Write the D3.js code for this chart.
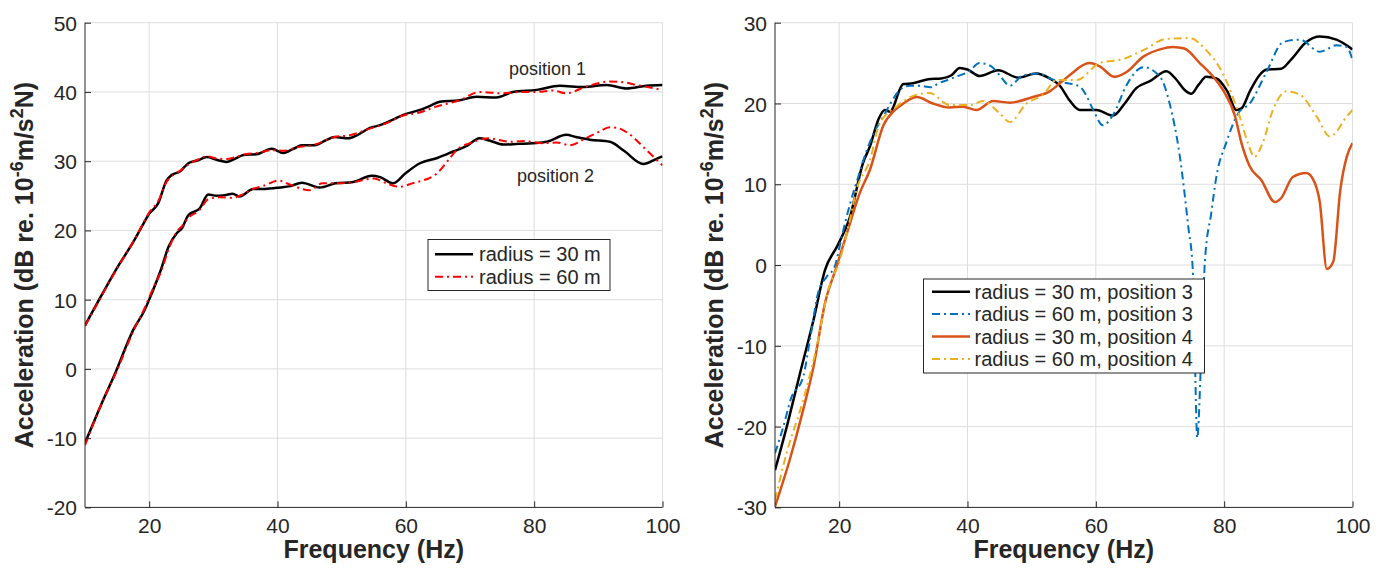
<!DOCTYPE html>
<html lang="en">
<head>
    <meta charset="UTF-8">
    <title>Acceleration vs frequency</title>
    <script src="https://d3js.org/d3.v7.min.js"></script>
</head>
<body>
<svg id="chart" width="1389" height="568"></svg>
</body>

<style>
    body { margin: 0; background: #fff; }
    svg { display: block; }
    text {
        font-family: "Liberation Sans", Arial, Helvetica, sans-serif;
        fill: #262626;
    }
    .grid line { stroke: #dedede; stroke-width: 1; }
    .axis-line { stroke: #262626; stroke-width: 1; fill: none; }
    .tick-label { font-size: 21px; }
    .axis-label { font-size: 25px; font-weight: bold; }
    .legend-text { font-size: 20px; }
</style>

<script>
    // [frequency (Hz), acceleration (dB)]
    const pos1Radius30 = [[10,6.3],[12.5,10.5],[15,14.6],[17.5,18.3],[19,20.8],[20,22.4],[21.4,23.9],[22.7,27.2],[23.5,28],[24.8,28.5],[26.1,29.7],[27.5,30.1],[29,30.6],[30.5,30.2],[32.1,29.9],[33.5,30.4],[34.7,30.9],[36.7,31.0],[39.1,31.8],[40.9,31.2],[42.5,31.8],[43.8,32.3],[45.8,32.3],[47.5,33.0],[48.9,33.5],[51,33.3],[52.5,33.8],[54.4,34.8],[56,35.2],[58,36.0],[59.6,36.7],[62.2,37.4],[63.8,38.0],[65.3,38.6],[68.4,38.8],[71,39.3],[74.1,39.2],[76.7,40.0],[80.4,40.3],[84,40.9],[87.6,40.7],[91.3,41.0],[94.4,40.5],[97.5,40.9],[100,41.0]];
    const pos1Radius60 = [[10,6.2],[12.5,10.4],[15,14.5],[17.5,18.3],[19,20.9],[20,22.6],[21.4,24.2],[22.7,27.0],[23.5,27.8],[24.8,28.6],[26.1,29.5],[27.5,30.2],[29,30.7],[30.5,30.4],[32.1,30.3],[33.5,30.6],[35,31.0],[37,31.2],[39,31.6],[41,31.5],[43,32.0],[45.8,32.4],[48.9,33.5],[51,33.7],[54.4,34.7],[57,35.5],[59.6,36.6],[62,37.0],[64.8,37.9],[68.4,38.8],[71.5,40.0],[75.1,39.8],[78,40.0],[80.4,40.0],[83,40.2],[85,39.8],[88.2,40.8],[91.8,41.5],[94,41.4],[96,41.0],[100,40.3]];
    const pos2Radius30 = [[10,-10.7],[12.5,-5.2],[14.9,-0.2],[16.5,3.5],[17.5,5.6],[19.3,8.5],[20.4,10.9],[21.9,14.5],[23,17.6],[24.3,19.6],[25.1,20.3],[26.1,22.2],[27.9,23.2],[29.2,25.2],[30.5,25.0],[31.8,25.1],[33,25.3],[34.1,24.9],[36.2,26.0],[38,26.0],[40.4,26.2],[42,26.4],[43.8,26.9],[46.6,26.2],[49,26.8],[51.8,27.0],[54.7,27.9],[56,27.7],[58,26.8],[60,28.3],[62.2,29.7],[65,30.5],[67.4,31.4],[69.5,32.2],[71.5,33.3],[73,33.0],[75.2,32.4],[77.5,32.5],[79.8,32.6],[82,32.8],[85,33.8],[86.5,33.5],[88.7,33.1],[91.8,32.8],[94,31.5],[97,29.6],[99,30.3],[100,30.7]];
    const pos2Radius60 = [[10,-11],[12.5,-5.2],[14.9,-0.4],[17.5,5.4],[19.3,8.8],[20.4,11.2],[21.9,14.2],[23,17.2],[24.3,19.8],[25.1,20.6],[26.1,21.8],[27.9,23.0],[29.2,24.5],[31,24.8],[33,24.7],[34.1,25.0],[36.2,26.0],[38,26.5],[40.1,27.2],[42,26.6],[45,25.8],[47,26.8],[49,26.8],[52,27.0],[55,27.5],[57,26.8],[59,26.3],[61,26.8],[64.8,28.2],[66.5,30.0],[67.9,31.6],[70,32.6],[73,33.3],[76.2,32.8],[78.5,32.9],[81.4,32.6],[83.5,32.7],[85.6,32.3],[88,33.3],[90,34.2],[91.8,34.9],[93,34.8],[94.7,34.0],[97.5,31.6],[100,29.4]];

    const pos3Radius30 = [[10,-25.4],[12,-19.5],[13.9,-13.4],[16,-6.8],[17.8,-0.6],[19.8,2.5],[21.7,6.0],[23.7,12.6],[24.8,14.7],[26.1,18.0],[27.1,19.2],[27.9,19.0],[30,22.4],[31.5,22.5],[33.9,23.0],[35.9,23.1],[37.5,23.5],[38.8,24.4],[40,24.2],[41.9,23.4],[44.8,24.1],[47.9,23.2],[50.7,23.7],[52.8,23.1],[54.4,22.2],[55.9,20.4],[57.5,19.2],[60.1,19.2],[62.7,18.5],[64.5,20.0],[66.3,21.9],[68.5,22.8],[71,24.0],[72.5,23.0],[73.8,21.7],[74.9,21.2],[76,22.3],[77.2,23.3],[78.8,23.1],[80.5,21.5],[81.9,19.2],[82.7,19.4],[84,21.5],[85.5,23.5],[86.6,24.2],[88.9,24.3],[90.5,25.5],[92.8,27.6],[94.9,28.3],[97.5,27.9],[100,26.7]];
    const pos3Radius60 = [[10,-23.3],[11.3,-20],[12.5,-16.5],[14.4,-13.8],[15.5,-9],[16.7,-3.5],[18,-1.5],[19.3,-0.2],[20.4,3.5],[21.7,7.6],[23,11],[24.3,14.2],[25.5,16.5],[26.9,18.4],[28,20],[29.5,21.7],[31,22.2],[32.6,22.2],[34.2,22.0],[35.5,22.5],[37.2,23.0],[38.5,23.4],[40.1,23.9],[41.9,25.0],[43.7,24.6],[45,23.5],[46.6,22.2],[48.7,23.5],[51.2,23.7],[52.8,23.1],[54.4,22.7],[57.5,22.1],[58.5,21.0],[59.6,19.2],[61.1,17.3],[62.7,18.6],[64.8,22.3],[67.4,24.5],[70,23.3],[71.5,20.0],[73.1,13.4],[74.4,4.8],[75.1,-0.5],[75.4,-10],[75.8,-21.4],[76.4,-11.8],[77,0.5],[78,6.5],[78.8,11.0],[80.3,15.1],[82.2,18.8],[84,20.0],[86.6,23.9],[89.2,27.6],[91.8,27.9],[94.9,26.4],[97.5,27.2],[99.1,27.0],[100,25.4]];
    const pos4Radius30 = [[10,-29.9],[12.3,-24.1],[14.4,-17.9],[16,-12.6],[17.8,-4.7],[19.6,-0.2],[21.7,5.2],[23.2,8.9],[24.8,11.8],[26.9,17.3],[28.7,19.2],[30,20.0],[32.1,20.8],[34.6,20.0],[37.2,19.5],[39.3,19.6],[41.4,19.2],[44,20.3],[46.6,20.1],[50.2,20.8],[52.8,21.5],[54.4,22.5],[55.9,23.5],[59,25.0],[60.6,24.6],[62.9,23.3],[64.8,23.9],[67.4,25.8],[70,26.7],[72,27.0],[73.8,26.8],[76.2,25.0],[78.3,23.3],[79.8,21.7],[81.7,18.4],[82.7,15.1],[84,12.2],[85.8,10.5],[87.9,7.8],[88.9,8.3],[90.7,10.9],[92.8,11.4],[93.8,10.7],[94.9,7.8],[96,-0.5],[97,0.4],[98.1,9.3],[99.1,13.4],[100,15.1]];
    const pos4Radius60 = [[10,-29.1],[11.8,-23.3],[14.4,-16.7],[16.5,-10.1],[18.3,-3.1],[20.1,0.6],[21.5,5],[22.7,9.3],[24.8,13.0],[26.3,17.5],[28.9,19.6],[32.1,21.1],[34.1,21.3],[37.2,19.8],[40.4,19.8],[42.4,20.3],[45,18.8],[46.6,17.7],[49.2,20.0],[51.8,21.1],[53.9,22.9],[57,22.9],[60.6,25.0],[64.2,25.5],[67.4,26.6],[71,28.0],[74.6,28.1],[77.2,26.6],[79.8,23.7],[82.4,18.4],[83.7,15.1],[84.7,13.4],[86,15.1],[87.6,19.2],[89.7,21.5],[91.8,21.1],[94.4,18.4],[96.5,15.9],[97,16.1],[99.1,18.4],[100,19.2]];

    const xTicks = [20, 40, 60, 80, 100];
    const leftYTicks = [-20, -10, 0, 10, 20, 30, 40, 50];
    const rightYTicks = [-30, -20, -10, 0, 10, 20, 30];
    const leftLegend = ['radius = 30 m', 'radius = 60 m'];
    const rightLegend = ['radius = 30 m, position 3', 'radius = 60 m, position 3',
        'radius = 30 m, position 4', 'radius = 60 m, position 4'];

    const svg = d3.select('#chart');
    const DASHDOT = '8,4,2,4';

    // plain hyphen for negatives, like the original figure
    const tickFmt = d => String(d);

    function drawPanel(id, box, yDomain, yTicks, series) {
        const x = d3.scaleLinear().domain([10, 100]).range([box.left, box.right]);
        const y = d3.scaleLinear().domain(yDomain).range([box.bottom, box.top]);
        const g = svg.append('g').attr('class', 'panel');

        // grid
        const grid = g.append('g').attr('class', 'grid');
        grid.selectAll('line.gx')
            .data(xTicks)
            .join('line')
            .attr('x1', d => x(d)).attr('x2', d => x(d))
            .attr('y1', box.top).attr('y2', box.bottom);
        grid.selectAll('line.gy')
            .data(yTicks.filter(d => d !== yDomain[0]))
            .join('line')
            .attr('class', 'gy')
            .attr('x1', box.left).attr('x2', box.right)
            .attr('y1', d => y(d)).attr('y2', d => y(d));

        // curves
        g.append('clipPath').attr('id', id + '-clip')
            .append('rect')
            .attr('x', box.left).attr('y', box.top)
            .attr('width', box.right - box.left).attr('height', box.bottom - box.top);

        const line = d3.line()
            .x(d => x(d[0]))
            .y(d => y(d[1]))
            .curve(d3.curveMonotoneX);

        g.append('g')
            .attr('clip-path', `url(#${id}-clip)`)
            .selectAll('path')
            .data(series)
            .join('path')
            .attr('d', d => line(d.values))
            .attr('fill', 'none')
            .attr('stroke', d => d.color)
            .attr('stroke-width', d => d.dash ? 2 : 2.5)
            .attr('stroke-dasharray', d => d.dash ? DASHDOT : null)
            .attr('stroke-linejoin', 'round');

        // axes: bottom + left, ticks pointing inward
        const xAxis = d3.axisBottom(x).tickValues(xTicks).tickSize(-6).tickPadding(0).tickFormat(tickFmt);
        const yAxis = d3.axisLeft(y).tickValues(yTicks).tickSize(-6).tickPadding(0).tickFormat(tickFmt);

        const gx = g.append('g').attr('transform', `translate(0,${box.bottom})`).call(xAxis);
        const gy = g.append('g').attr('transform', `translate(${box.left},0)`).call(yAxis);

        [gx, gy].forEach(a => {
            a.select('.domain').remove();
            a.selectAll('.tick line').attr('stroke', '#262626');
            a.selectAll('.tick text').attr('class', 'tick-label')
                .attr('fill', '#262626').attr('font-family', null).attr('font-size', null);
        });
        gx.selectAll('.tick text').attr('y', 26).attr('dy', null);
        gy.selectAll('.tick text').attr('x', -8).attr('dy', '0.36em');

        g.append('path')
            .attr('class', 'axis-line')
            .attr('d', `M${box.left},${box.top}V${box.bottom}H${box.right}`);

        // x label
        g.append('text')
            .attr('class', 'axis-label')
            .attr('x', (box.left + box.right) / 2)
            .attr('y', 558)
            .attr('text-anchor', 'middle')
            .text('Frequency (Hz)');

        // y label with superscripts
        const yl = g.append('text')
            .attr('class', 'axis-label')
            .attr('text-anchor', 'middle')
            .attr('transform', `translate(${box.left - 52},${(box.top + box.bottom) / 2}) rotate(-90)`);
        yl.append('tspan').text('Acceleration (dB re. 10');
        yl.append('tspan').attr('dy', -10).style('font-size', '18px').text('-6');
        yl.append('tspan').attr('dy', 10).text('m/s');
        yl.append('tspan').attr('dy', -10).style('font-size', '18px').text('2');
        yl.append('tspan').attr('dy', 10).text('N)');

        return {x, y, g};
    }

    function drawLegend(g, box, labels, series) {
        const lg = g.append('g');
        lg.append('rect')
            .attr('x', box.x).attr('y', box.y)
            .attr('width', box.w).attr('height', box.h)
            .attr('fill', '#fff')
            .attr('stroke', '#262626')
            .attr('stroke-width', 1);
        const row = lg.selectAll('g.row')
            .data(labels)
            .join('g')
            .attr('transform', (d, i) => `translate(${box.x},${box.firstRow + i * box.rowStep})`);
        row.append('line')
            .attr('x1', box.lineX0).attr('x2', box.lineX1)
            .attr('stroke', (d, i) => series[i].color)
            .attr('stroke-width', (d, i) => series[i].dash ? 2 : 2.5)
            .attr('stroke-dasharray', (d, i) => series[i].dash ? DASHDOT : null);
        row.append('text')
            .attr('class', 'legend-text')
            .attr('x', box.textX)
            .attr('dy', '0.35em')
            .text(d => d);
    }

    // left panel
    const leftSeries = [
        {values: pos1Radius30, color: '#000000', dash: false},
        {values: pos1Radius60, color: '#ff0000', dash: true},
        {values: pos2Radius30, color: '#000000', dash: false},
        {values: pos2Radius60, color: '#ff0000', dash: true}
    ];
    const leftBox = {left: 85, right: 662.5, top: 22.7, bottom: 507.4};
    const left = drawPanel('left', leftBox, [-20, 50], leftYTicks, leftSeries);

    left.g.append('text').attr('x', 509).attr('y', 74.5).style('font-size', '18px').text('position 1');
    left.g.append('text').attr('x', 517).attr('y', 182).style('font-size', '18px').text('position 2');

    drawLegend(left.g, {x: 428, y: 239.5, w: 182, h: 51, firstRow: 254.3, rowStep: 22.4,
        lineX0: 7, lineX1: 45, textX: 51}, leftLegend, [leftSeries[0], leftSeries[1]]);

    // right panel
    const rightSeries = [
        {values: pos3Radius30, color: '#000000', dash: false},
        {values: pos3Radius60, color: '#0072bd', dash: true},
        {values: pos4Radius30, color: '#d95319', dash: false},
        {values: pos4Radius60, color: '#edb120', dash: true}
    ];
    const rightBox = {left: 775, right: 1352.5, top: 22.7, bottom: 507.4};
    const right = drawPanel('right', rightBox, [-30, 30], rightYTicks, rightSeries);

    drawLegend(right.g, {x: 923.5, y: 279, w: 281, h: 94, firstRow: 291.7, rowStep: 22.4,
        lineX0: 8.5, lineX1: 46.5, textX: 51}, rightLegend, rightSeries);
</script>
</html>
